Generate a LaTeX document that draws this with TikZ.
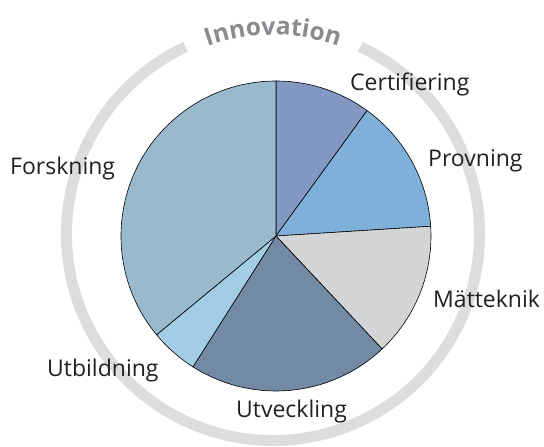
\documentclass[tikz,border=0pt]{standalone}
\usepackage{fontspec}
\setmainfont{Open Sans}
\usetikzlibrary{decorations.text}
\definecolor{certcol}{HTML}{8397C3}
\definecolor{provcol}{HTML}{7FB0D9}
\definecolor{mattcol}{HTML}{D3D4D6}
\definecolor{utvecol}{HTML}{728AA3}
\definecolor{utbicol}{HTML}{A3CDE4}
\definecolor{forscol}{HTML}{99BACC}
\definecolor{ringcol}{HTML}{DCDDDF}
\definecolor{innocol}{HTML}{898B8E}
\definecolor{textcol}{HTML}{231F20}
\tikzset{
        slice/.style={draw=black, line width=0.6pt, line join=round}, % every pie piece
        label/.style={text=textcol, font=\fontsize{23}{26}\selectfont, anchor=base west, inner sep=0pt},
        ring/.style={draw=ringcol, line width=11pt},
    }
\begin{document}
\begin{tikzpicture}[x=1pt, y=1pt]
    \useasboundingbox (0,0) rectangle (544,447);
    \coordinate (c) at (276,211);
    \coordinate (r) at (273,213);
    % outer ring with a gap on top
    \draw[ring] (r) ++(115:206.5) arc[start angle=115, end angle=425, radius=206.5];
    \path[decorate, decoration={text along path, text align=center,
        text={|\bfseries\fontsize{24.5}{24.5}\selectfont\color{innocol}|Innovation}}]
      (r) ++(112:199) arc[start angle=112, end angle=68, radius=199];
    % pie pieces
    \filldraw[slice, fill=certcol] (c) -- ++(90:155) arc[start angle=90, end angle=54, radius=155] -- cycle;
    \filldraw[slice, fill=provcol] (c) -- ++(54:155) arc[start angle=54, end angle=3.6, radius=155] -- cycle;
    \filldraw[slice, fill=mattcol] (c) -- ++(3.6:155) arc[start angle=3.6, end angle=-46.8, radius=155] -- cycle;
    \filldraw[slice, fill=utvecol] (c) -- ++(-46.8:155) arc[start angle=-46.8, end angle=-122.4, radius=155] -- cycle;
    \filldraw[slice, fill=utbicol] (c) -- ++(-122.4:155) arc[start angle=-122.4, end angle=-140.4, radius=155] -- cycle;
    \filldraw[slice, fill=forscol] (c) -- ++(-140.4:155) arc[start angle=-140.4, end angle=-270, radius=155] -- cycle;
    % labels
    \node[label] (cert) at (350,356) {Certifiering};
    \node[label] (prov) at (428,280) {Provning};
    \node[label] (matt) at (433,139) {Mätteknik};
    \node[label] (fors) at (10,272) {Forskning};
    \node[label] (utbi) at (47,70) {Utbildning};
    \node[label] (utve) at (236,29) {Utveckling};
\end{tikzpicture}
\end{document}
